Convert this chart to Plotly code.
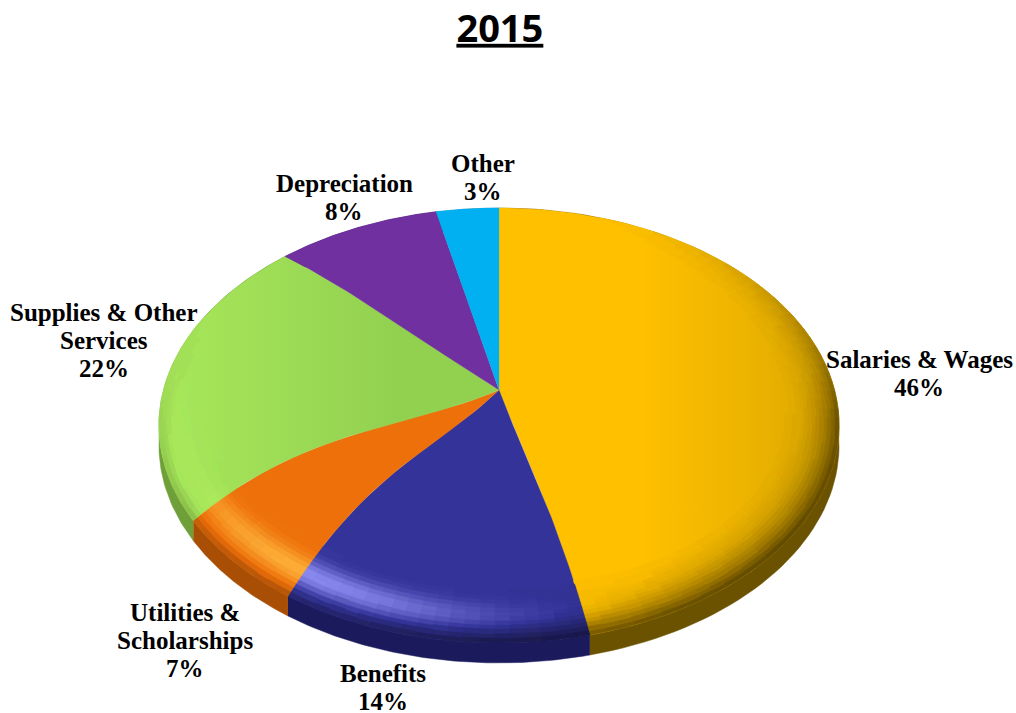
import numpy as np
import plotly.graph_objects as go

# ---- data ----
categories = ["Salaries & Wages", "Benefits", "Utilities &<br>Scholarships",
              "Supplies & Other<br>Services", "Depreciation", "Other"]
values = [46, 14, 7, 22, 8, 3]
title_text = "2015"

# ---- styling ----
face_colors = ["#FFC000", "#333399", "#ED700A", "#92D050", "#7030A0", "#00B0F0"]
wall_colors = ["#6B5200", "#1B1A5C", "#A94F05", "#6F9F38", "#4A2070", "#0080B0"]
glow_colors = ["#FFD040", "#9A9AFF", "#FFB840", "#B4F060", "#A060D0", "#60D0FF"]
label_centres = [(919, 373), (383, 687), (185, 640), (104, 340), (344, 197), (483, 177)]
LINE_GAP = 28

CX, CY = 499.0, 390.0      # apex of the pie in the picture
A, B, K = 335.5, 211.7, 0.163   # perspective of the disk
WARP, WARP2 = 0.125, 0.02  # angular foreshortening of the view
DOME = 22.0                # the rounded surface bends the slice edges
WALL = 20.0                # rim height
R0 = 0.80                  # start of the bevel
BANDS = 18
STEP = np.radians(2.5)
LIGHT = np.radians(215)
LEVELS = 60
RGB_STEP = 3

gradients = {
    0: (640, 838, "#FFC000", "#DCA800"),
    3: (160, 400, "#A8E85A", "#92D050"),
}


def project(theta, rho):
    theta = np.asarray(theta, float)
    rho = rho * np.ones_like(theta)
    t = theta + WARP * np.sin(theta) + WARP2 * np.sin(2 * theta)
    u, v = rho * np.sin(t), rho * np.cos(t)
    d = 1 + K * v
    w = (0.5 + 0.5 * np.cos(theta - np.radians(220))) ** 2
    bend = DOME * 6.75 * rho ** 2 * (1 - rho) * w
    return CX + A * u / d, CY - B * v / d - bend


def to_rgb(hex_color):
    return np.array([int(hex_color[i:i + 2], 16) for i in (1, 3, 5)], float)


def local_base(i, x):
    if i not in gradients:
        return to_rgb(face_colors[i])
    start, stop, c0, c1 = gradients[i]
    f = np.clip((x - start) / (stop - start), 0, 1)
    return to_rgb(c0) + (to_rgb(c1) - to_rgb(c0)) * f


def blend(c, glow, s):
    target = to_rgb(glow) if s > 0 else np.zeros(3)
    c = c + (target - c) * abs(s)
    c = np.clip(np.round(c / RGB_STEP) * RGB_STEP, 0, 255)
    return "#%02x%02x%02x" % tuple(int(x) for x in c)


def shade(phi, t):
    lit = max(0.0, np.cos(phi - LIGHT)) ** 5
    highlight = 0.95 * lit * np.exp(-((t - 0.68) / 0.19) ** 2)
    dw = 0.5 + 0.5 * np.cos(phi - np.radians(135))
    dw *= np.clip(1.0 - np.cos(phi), 0, 1)
    dark = 0.62 * dw * t ** 3.0
    return highlight - dark


fractions = np.array(values, float) / sum(values)
edges = np.concatenate([[0], np.cumsum(fractions)]) * 2 * np.pi

fig = go.Figure()

# rim
for i, c in enumerate(wall_colors):
    th = np.linspace(edges[i], edges[i + 1], 90)
    x, y = project(th, 1.0)
    fig.add_trace(go.Scatter(
        x=np.concatenate([x, x[::-1]]), y=np.concatenate([y, y[::-1] + WALL]),
        mode="lines", fill="toself", fillcolor=c, line=dict(color=c, width=0.5),
        hoverinfo="skip", showlegend=False))

# top of each slice
rho_fine = np.linspace(0, 1, 40)
for i, c in enumerate(face_colors):
    th = np.linspace(edges[i], edges[i + 1], 120)
    x, y = project(th, 1.0)
    xa, ya = project(np.full_like(rho_fine, edges[i]), rho_fine)
    xb, yb = project(np.full_like(rho_fine, edges[i + 1]), rho_fine)
    x = np.concatenate([xa, x, xb[::-1]])
    y = np.concatenate([ya, y, yb[::-1]])
    if i in gradients:
        start, stop, c0, c1 = gradients[i]
        kw = dict(fillgradient=dict(type="horizontal", start=start, stop=stop,
                                    colorscale=[[0, c0], [1, c1]]))
    else:
        kw = dict(fillcolor=c)
    fig.add_trace(go.Scatter(x=x, y=y, mode="lines", fill="toself",
                             line=dict(color=c, width=0.3),
                             hoverinfo="skip", showlegend=False, **kw))

# bevel: small cells of the outer ring, grouped by colour
groups = {}
rhos = np.linspace(R0, 1.0, BANDS + 1)
for i in range(len(face_colors)):
    n = max(2, int((edges[i + 1] - edges[i]) / STEP))
    ths = np.linspace(edges[i], edges[i + 1], n + 1)
    for a0, a1 in zip(ths[:-1], ths[1:]):
        for j in range(BANDS):
            t = (j + 0.5) / BANDS
            s = round(shade((a0 + a1) / 2, t) * LEVELS) / LEVELS
            if s == 0:
                continue
            xa, ya = [], []
            for a, r in ((a0, rhos[j]), (a1, rhos[j]), (a1, rhos[j + 1]), (a0, rhos[j + 1]), (a0, rhos[j])):
                px, py = project(a, r)
                xa.append(float(px))
                ya.append(float(py))
            col = blend(local_base(i, np.mean(xa)), glow_colors[i], s)
            g = groups.setdefault(col, ([], []))
            g[0].extend(xa + [None])
            g[1].extend(ya + [None])

for col, (xs, ys) in groups.items():
    fig.add_trace(go.Scatter(x=xs, y=ys, mode="lines", fill="toself", fillcolor=col,
                             line=dict(color=col, width=0.6),
                             hoverinfo="skip", showlegend=False))

for name, val, (lx, ly) in zip(categories, values, label_centres):
    lines = name.split("<br>") + [f"{val}%"]
    for k, line in enumerate(lines):
        fig.add_annotation(x=lx, y=ly + (k - (len(lines) - 1) / 2) * LINE_GAP,
                           xref="x", yref="y", text=line, showarrow=False, align="center",
                           font=dict(family="Liberation Serif", size=25, color="black", weight="bold"))

fig.update_layout(
    width=1016, height=713, autosize=False,
    margin=dict(l=0, r=0, t=0, b=0),
    paper_bgcolor="white", plot_bgcolor="white",
    showlegend=False,
    xaxis=dict(range=[0, 1016], visible=False, fixedrange=True),
    yaxis=dict(range=[713, 0], visible=False, fixedrange=True),
    title=dict(text=f"<u>{title_text}</u>", x=0.492, xanchor="center", y=0.96, yanchor="middle",
               font=dict(family="Open Sans", size=38, color="black", weight="bold")),
)

fig.write_html("out.html", config=dict(displayModeBar=False),
               post_script="document.body.style.margin='0';")
